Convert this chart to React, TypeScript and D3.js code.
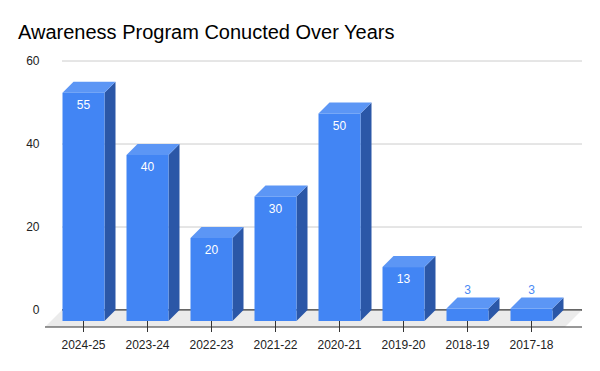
import React from "react";
import * as d3 from "d3";

// chart data
const years = ["2024-25", "2023-24", "2022-23", "2021-22", "2020-21", "2019-20", "2018-19", "2017-18"];
const programs = [55, 40, 20, 30, 50, 13, 3, 3];
const yTicks = [0, 20, 40, 60];
const title = "Awareness Program Conucted Over Years";

const W = 600;
const H = 371;
const FONT = "Arial, 'Liberation Sans', sans-serif";

export default function App() {
  // bar depth (3d offset) and floor depth
  const depth = 11;
  const floorDepth = 17;
  const barW = 42;

  const x = d3.scaleBand<string>().domain(years).range([51.5, 563.5]).padding(0);
  // front face scale; back plane is shifted up by depth
  const yFront = d3.scaleLinear().domain([0, 60]).range([321, 72]);
  const yBack = (v: number) => yFront(v) - depth;

  const backLeft = 62;
  const backRight = 582;
  const floorBack = yBack(0);
  const floorFront = floorBack + floorDepth;

  const floor = `M${backLeft},${floorBack} L${backRight},${floorBack} L${backRight - floorDepth},${floorFront} L${backLeft - floorDepth},${floorFront} Z`;

  return (
    <svg
      width={W}
      height={H}
      style={{ position: "absolute", left: 0, top: 0, background: "#fff" }}
      fontFamily={FONT}
    >
      <text x={18} y={39} fontSize={20} fill="#000">{title}</text>

      {/* gridlines on the back plane */}
      {yTicks.map((t) => (
        <g key={t}>
          <line
            x1={backLeft}
            x2={backRight}
            y1={yBack(t)}
            y2={yBack(t)}
            stroke={t === 0 ? "#333" : "#ccc"}
            strokeWidth={1}
          />
          <text x={39.5} y={yBack(t) + 4} fontSize={12} textAnchor="end" fill="#222">
            {t}
          </text>
        </g>
      ))}

      {/* floor */}
      <path d={floor} fill="#ebebeb" />
      <line x1={backLeft} x2={backRight} y1={floorBack} y2={floorBack} stroke="#333" />
      <line x1={backLeft - floorDepth} x2={backRight} y1={floorFront} y2={floorFront} stroke="#333" />

      {/* ticks + category labels */}
      {years.map((c) => {
        const cx = (x(c) as number) + x.bandwidth() / 2;
        return (
          <g key={c}>
            <line x1={cx} x2={cx} y1={yFront(0)} y2={floorFront + 5} stroke="#333" />
            <text x={cx} y={349} fontSize={12} textAnchor="middle" fill="#222">
              {c}
            </text>
          </g>
        );
      })}

      {/* 3d bars */}
      {years.map((c, i) => {
        const v = programs[i];
        const cx = (x(c) as number) + x.bandwidth() / 2;
        const x0 = cx - barW / 2;
        const x1 = cx + barW / 2;
        const yt = yFront(v);
        const yb = yFront(0);
        const top = `M${x0},${yt} L${x0 + depth},${yt - depth} L${x1 + depth},${yt - depth} L${x1},${yt} Z`;
        const side = `M${x1},${yt} L${x1 + depth},${yt - depth} L${x1 + depth},${yb - depth} L${x1},${yb} Z`;
        const inside = yb - yt > 20;
        return (
          <g key={c}>
            <path d={side} fill="#2b57a7" />
            <path d={top} fill="#5c96f5" />
            <rect x={x0} y={yt} width={barW} height={yb - yt} fill="#4285f4" />
            <text
              x={cx}
              y={inside ? yt + 16 : yt - depth - 4}
              fontSize={12}
              textAnchor="middle"
              fill={inside ? "#fff" : "#4a8af4"}
            >
              {v}
            </text>
          </g>
        );
      })}
    </svg>
  );
}
